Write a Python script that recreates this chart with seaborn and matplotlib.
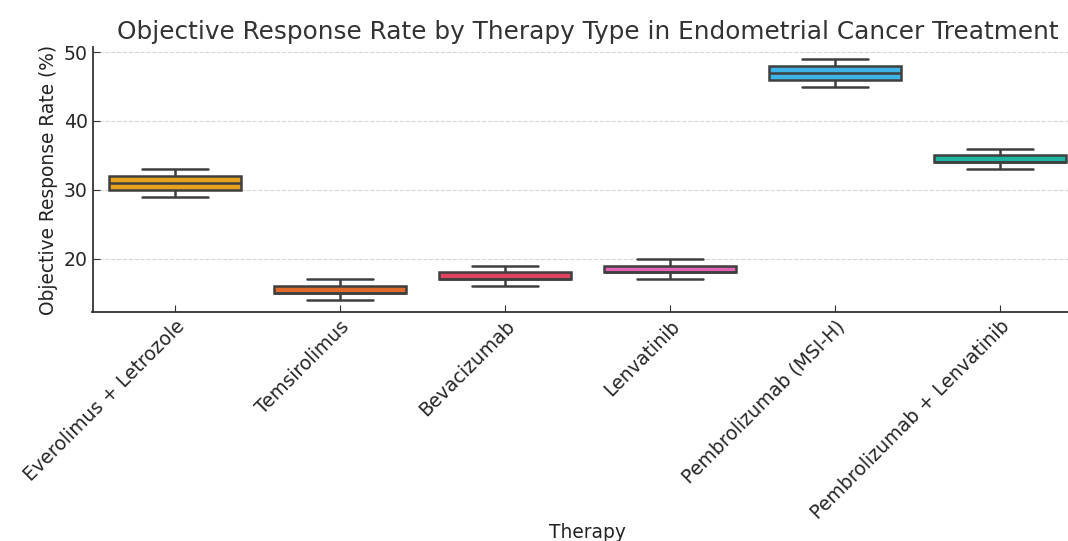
import matplotlib
matplotlib.use("Agg")
import matplotlib.pyplot as plt
import seaborn as sns
import pandas as pd

therapies = ["Everolimus + Letrozole", "Temsirolimus", "Bevacizumab",
             "Lenvatinib", "Pembrolizumab (MSI-H)", "Pembrolizumab + Lenvatinib"]
everolimus_letrozole = [29, 30, 31, 32, 33]
temsirolimus = [14, 15, 15, 16, 17]
bevacizumab = [16, 17, 17, 18, 19]
lenvatinib = [17, 18, 18, 19, 20]
pembrolizumab_msih = [45, 46, 47, 48, 49]
pembro_lenvatinib = [33, 34, 34, 35, 36]
colors = ["#E6A11E", "#E2692C", "#E0435F", "#E063B8", "#3DB3E6", "#1DB4A2"]

series = [everolimus_letrozole, temsirolimus, bevacizumab, lenvatinib,
          pembrolizumab_msih, pembro_lenvatinib]
rows = []
for t, vals in zip(therapies, series):
    for v in vals:
        rows.append({"Therapy": t, "Objective Response Rate (%)": v})
df = pd.DataFrame(rows)

sns.set_style("whitegrid", {"grid.linestyle": "--", "grid.color": "#d9d9d9",
                            "axes.edgecolor": "#333333"})
plt.rcParams['font.family'] = ['DejaVu Sans']

fig = plt.figure(figsize=(10.68, 5.41), dpi=100)
ax = fig.add_axes([92.5 / 1068, 1 - 312 / 541, 990 / 1068, (312 - 47) / 541])
sns.boxplot(data=df, x="Therapy", y="Objective Response Rate (%)", hue="Therapy",
            palette=colors, saturation=1, width=0.8, linewidth=1.8, linecolor="#3f3f3f",
            whis=1.5, ax=ax, legend=False)
ax.set_title("Objective Response Rate by Therapy Type in Endometrial Cancer Treatment",
             fontsize=17.8, color="#333333")
ax.set_xlabel("Therapy", fontsize=13.4, color="#222222", labelpad=0)
ax.set_ylabel("Objective Response Rate (%)", fontsize=13.4, color="#222222")
ax.tick_params(axis="both", labelsize=13.6, length=5, direction="in", color="#333333",
               bottom=True, left=True)
plt.setp(ax.get_xticklabels(), rotation=45, ha="right", rotation_mode="anchor")
ax.grid(axis="x", visible=False)
ax.yaxis.grid(True, linestyle="--", color="#d5d5d5", linewidth=0.8)
for s in ["top", "right"]:
    ax.spines[s].set_visible(False)
for s in ["left", "bottom"]:
    ax.spines[s].set_linewidth(1.3)
fig.savefig("out.png", dpi=100)
